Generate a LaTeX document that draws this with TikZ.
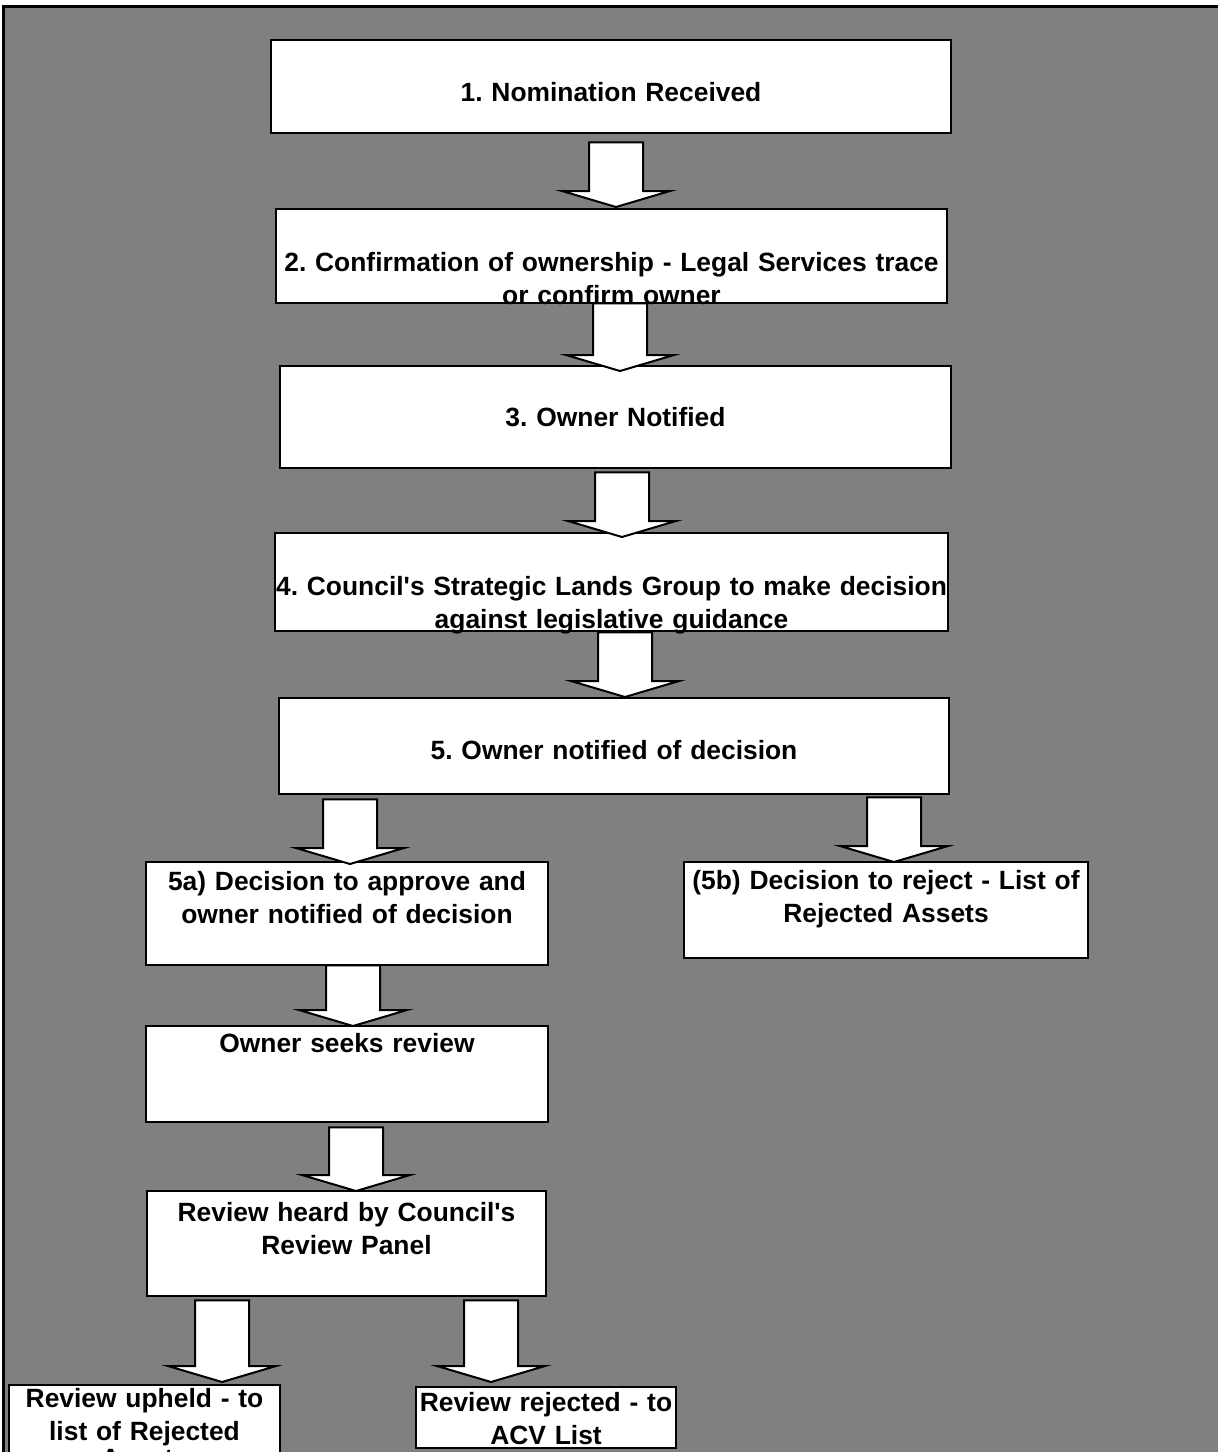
\documentclass[tikz,border=0pt]{standalone}
\usepackage{fontspec}
\setmainfont{Liberation Sans}
\usepackage{tikz}
\usetikzlibrary{calc}

\definecolor{panelgray}{RGB}{128,128,128}
\pgfdeclarelayer{bg}
\pgfdeclarelayer{boxes}
\pgfdeclarelayer{arrows}
\pgfsetlayers{bg,boxes,arrows,main}

% block arrow: #1 = top of shaft, #2 = tip
\newcommand{\fatarrow}[2]{%
  \coordinate (tip) at (#2);
  \coordinate (top0) at (#1);
  \coordinate (top) at (top0 -| tip);
  \draw[fat] (tip) -- ++(-54pt,16pt) -- ++(27pt,0pt) -- ([xshift=-27pt]top)
    -- ([xshift=27pt]top) -- ([xshift=27pt,yshift=16pt]tip) -- ++(27pt,0pt) -- cycle;}

\tikzset{
  box/.style={inner sep=0pt, align=center, anchor=north,
    font=\fontsize{26.4}{33}\selectfont\bfseries\frenchspacing},
  boxline/.style={draw=black, fill=white, line width=2pt},
  fat/.style={draw=black, fill=white, line width=2pt, line join=miter}
}

\begin{document}
\begin{tikzpicture}[x=1pt,y=-1pt]
\useasboundingbox (0,0) rectangle (1218,1452);

\begin{pgfonlayer}{bg}
\fill[panelgray] (3,6) rectangle (1218,1452);
\draw[line width=3pt] (3,1452) -- (3,6) -- (1218,6);
\end{pgfonlayer}

% main column
\node[box, text width=680pt, text height=61.5pt, text depth=31.5pt] (nom) at (611,40) {1. Nomination Received};
\node[box, text width=671pt, text height=62.5pt, text depth=31.5pt] (own) at (611.5,209) {2. Confirmation of ownership - Legal Services trace\\or confirm owner};
\node[box, text width=671pt, text height=60.5pt, text depth=41.5pt] (notif) at (615.5,366) {3. Owner Notified};
\node[box, text width=673pt, text height=62.5pt, text depth=35.5pt] (slg) at (611.5,533) {4. Council\textquotesingle s Strategic Lands Group to make decision\\against legislative guidance};
\node[box, text width=670pt, text height=61.5pt, text depth=34.5pt] (dec) at (614,698) {5. Owner notified of decision};

% split after decision
\node[box, text width=402pt, text height=28.5pt, text depth=74.5pt] (approve) at (347,862) {5a) Decision to approve and\\owner notified of decision};
\node[box, text width=404pt, text height=27.5pt, text depth=68.5pt] (reject) at (886,862) {(5b) Decision to reject - List of\\Rejected Assets};
\node[box, text width=402pt, text height=26.5pt, text depth=69.5pt] (seek) at (347,1026) {Owner seeks review};
\node[box, text width=399pt, text height=30.5pt, text depth=74.5pt] (heard) at (346.5,1191) {Review heard by Council\textquotesingle s\\Review Panel};
\node[box, text width=271pt, text height=22pt, text depth=78pt] (upheld) at (144.5,1385) {Review upheld - to\\list of Rejected\\[-6pt]Assets};
\node[box, text width=260pt, text height=24.5pt, text depth=36.5pt] (acv) at (546,1387) {Review rejected - to\\ACV List};

\begin{pgfonlayer}{boxes}
\foreach \bx in {nom,own,notif,slg,dec,approve,reject,seek,heard,upheld,acv}
  \draw[boxline] (\bx.north west) rectangle (\bx.south east);
\end{pgfonlayer}

\begin{pgfonlayer}{arrows}
\fatarrow{[yshift=-9pt]nom.south}{[xshift=4.5pt,yshift=2pt]own.north}
\fatarrow{own.south}{[xshift=4.5pt,yshift=-5pt]notif.north}
\fatarrow{[yshift=-4pt]notif.south}{[xshift=10.5pt,yshift=-4pt]slg.north}
\fatarrow{[yshift=-1pt]slg.south}{[xshift=11pt,yshift=1pt]dec.north}
\fatarrow{[yshift=-5pt]dec.south}{[xshift=3pt,yshift=-2pt]approve.north}
\fatarrow{[yshift=-3pt]dec.south}{[xshift=8pt]reject.north}
\fatarrow{approve.south}{[xshift=6pt]seek.north}
\fatarrow{[yshift=-5pt]seek.south}{[xshift=9.5pt]heard.north}
\fatarrow{[yshift=-4pt]heard.south}{[xshift=77.5pt,yshift=3pt]upheld.north}
\fatarrow{[yshift=-4pt]heard.south}{[xshift=-55pt,yshift=5pt]acv.north}
\end{pgfonlayer}
\end{tikzpicture}
\end{document}
